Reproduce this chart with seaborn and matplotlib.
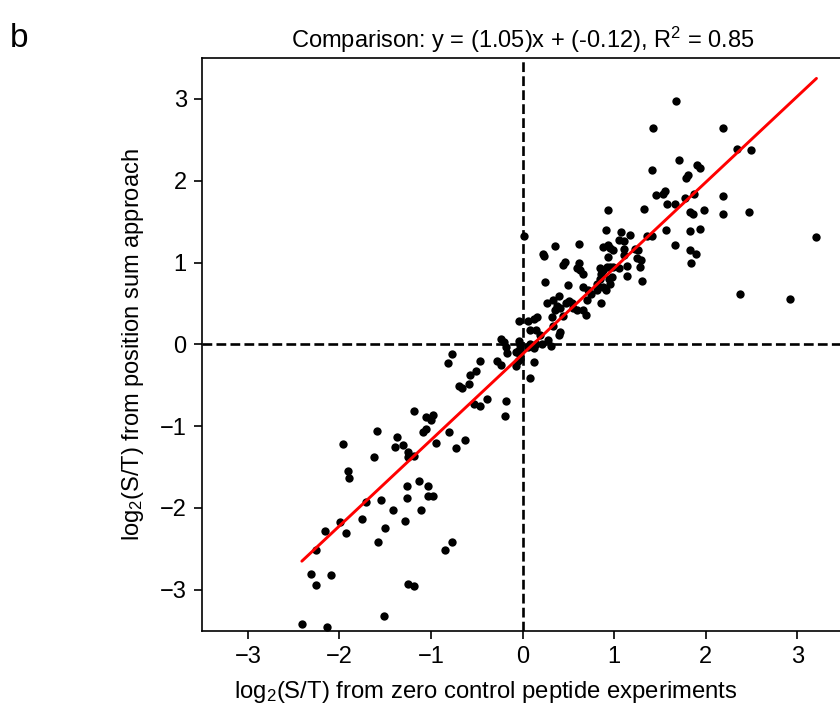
import numpy as np
import pandas as pd
import matplotlib
matplotlib.use("Agg")
import matplotlib.pyplot as plt
import seaborn as sns

# log2(S/T) values
x_zero_ctrl = [
    # lower left
    -2.41, -2.14, -1.51, -2.31, -2.09, -2.26, -1.25, -1.18, -2.25, -2.16,
    -1.93, -1.99, -1.75, -1.58, -1.50, -1.71, -1.55, -1.41, -1.28, -1.11,
    -0.85, -0.77, -1.26, -1.03, -0.98, -1.26, -1.03, -1.13, -1.91, -1.89,
    -1.62, -1.96, -1.39, -1.30, -1.25, -1.25, -1.19, -1.59, -1.37, -0.94,
    -0.73, -1.18, -1.05, -0.98, -1.00, -1.09, -1.05, -0.80, -0.63,
    # around the origin
    -0.77, -0.81, -0.46, -0.28, -0.23, -0.51, -0.57, -0.58, -0.69, -0.66,
    -0.39, -0.46, -0.53, -0.18, -0.19, 0.08, -0.24, -0.20, -0.18, -0.17,
    -0.04, -0.03, -0.04, -0.07, -0.03, -0.05, -0.07, -0.03, 0.06, 0.08,
    0.12, 0.15, 0.21, 0.31, 0.12, 0.19, 0.28, 0.08, 0.15, 0.41,
    0.40, 0.33, 0.02,
    # upper middle
    0.91, 1.08, 1.17, 1.36, 1.41, 1.57, 1.83, 1.94, 0.62, 0.36,
    0.88, 0.93, 0.96, 0.99, 1.05, 1.11, 1.11, 1.23, 1.26, 1.67,
    1.83, 1.89, 1.84, 0.22, 0.24, 0.93, 1.11, 1.25, 1.29, 0.46,
    0.44, 0.62, 0.59, 0.63, 0.66, 0.85, 0.88, 0.86, 0.92, 0.95,
    0.99, 1.05, 1.14, 1.28, 1.14, 1.31, 0.25, 0.50, 0.66, 0.72,
    0.81, 0.88, 0.91, 0.96, 0.94, 0.85, 0.98, 0.81, 0.75, 0.40,
    0.33, 0.27, 0.51, 0.48, 0.54, 0.38, 0.41, 0.36, 0.55, 0.59,
    0.66, 0.69, 0.70, 0.86, 0.32, 0.44, 0.16, 0.12, 0.06, -0.04,
    # upper right
    1.41, 1.71, 1.90, 1.94, 1.81, 1.79, 1.46, 1.53, 1.56, 1.87,
    1.58, 1.66, 1.77, 1.33, 0.93, 1.83, 1.86, 1.98, 1.68, 1.43,
    2.19, 2.34, 2.49, 2.19, 2.19, 2.47, 2.38, 2.92, 3.21,
]
y_pos_sum = [
    # lower left
    -3.42, -3.46, -3.32, -2.81, -2.82, -2.94, -2.93, -2.95, -2.51, -2.28,
    -2.30, -2.17, -2.14, -2.42, -2.24, -1.93, -1.90, -2.02, -2.16, -2.03,
    -2.51, -2.41, -1.88, -1.85, -1.85, -1.73, -1.73, -1.67, -1.55, -1.63,
    -1.38, -1.22, -1.26, -1.23, -1.31, -1.38, -1.36, -1.06, -1.13, -1.20,
    -1.27, -0.82, -0.89, -0.86, -0.93, -1.07, -1.04, -1.07, -1.17,
    # around the origin
    -0.12, -0.23, -0.20, -0.20, -0.25, -0.32, -0.38, -0.48, -0.51, -0.53,
    -0.67, -0.75, -0.73, -0.69, -0.88, -0.41, 0.07, 0.03, -0.03, -0.11,
    0.04, -0.01, -0.07, -0.09, -0.13, -0.20, -0.26, -0.18, -0.03, 0.01,
    -0.05, 0.01, 0.01, -0.02, -0.22, 0.11, 0.05, 0.17, 0.18, 0.15,
    0.11, 0.23, 1.33,
    # upper middle
    1.40, 1.37, 1.34, 1.33, 1.33, 1.40, 1.39, 1.41, 1.23, 1.20,
    1.19, 1.21, 1.18, 1.15, 1.27, 1.26, 1.17, 1.17, 1.15, 1.21,
    1.15, 1.10, 1.00, 1.11, 1.08, 1.07, 1.09, 1.05, 1.03, 1.01,
    0.97, 1.00, 0.93, 0.91, 0.86, 0.93, 0.91, 0.86, 0.94, 0.95,
    0.95, 0.93, 0.96, 0.95, 0.83, 0.78, 0.76, 0.72, 0.70, 0.67,
    0.66, 0.70, 0.67, 0.74, 0.80, 0.80, 0.82, 0.74, 0.61, 0.59,
    0.54, 0.51, 0.53, 0.50, 0.51, 0.47, 0.44, 0.42, 0.45, 0.42,
    0.42, 0.36, 0.54, 0.51, 0.33, 0.35, 0.33, 0.31, 0.29, 0.29,
    # upper right
    2.13, 2.25, 2.19, 2.16, 2.07, 2.03, 1.82, 1.84, 1.87, 1.84,
    1.71, 1.72, 1.79, 1.66, 1.64, 1.62, 1.59, 1.64, 2.97, 2.64,
    2.65, 2.39, 2.38, 1.81, 1.59, 1.62, 0.62, 0.56, 1.31,
]

slope = 1.05
intercept = -0.12
r_squared = 0.85
ticks = [-3, -2, -1, 0, 1, 2, 3]

df = pd.DataFrame({"x": x_zero_ctrl, "y": y_pos_sum})
x_fit = np.array([df["x"].min(), df["x"].max()])
fit = pd.DataFrame({"x": x_fit, "y": slope * x_fit + intercept})

sns.set_style("ticks")
plt.rcParams["font.family"] = ["Liberation Sans", "DejaVu Sans"]
plt.rcParams["mathtext.default"] = "regular"
plt.rcParams["axes.edgecolor"] = "black"
plt.rcParams["xtick.color"] = "black"
plt.rcParams["ytick.color"] = "black"
plt.rcParams["text.color"] = "black"
plt.rcParams["axes.labelcolor"] = "black"

fig = plt.figure(figsize=(8.4, 7.08), dpi=100)
ax = fig.add_axes([0.2405, 0.1092, 0.7631, 0.8089])

ax.axhline(0, color="black", ls="--", lw=1.9, zorder=1)
ax.axvline(0, color="black", ls="--", lw=1.9, zorder=1)
sns.scatterplot(data=df, x="x", y="y", ax=ax, color="black", s=36,
                linewidth=0, zorder=2)
sns.lineplot(data=fit, x="x", y="y", ax=ax, color="red", lw=2.1, zorder=3)

ax.set_xlim(-3.5, 3.5)
ax.set_ylim(-3.5, 3.5)
ax.set_xticks(ticks)
ax.set_yticks(ticks)
ax.tick_params(labelsize=17, length=6, width=1.2, direction="out", pad=5)
for sp in ax.spines.values():
    sp.set_linewidth(1.2)

ax.set_xlabel("log$_2$(S/T) from zero control peptide experiments",
              fontsize=17.2)
ax.xaxis.set_label_coords(0.443, -0.085)
ax.set_ylabel("log$_2$(S/T) from position sum approach", fontsize=17,
              labelpad=10)
ax.set_title(f"Comparison: y = ({slope:.2f})x + ({intercept:.2f}), "
             f"R$^2$ = {r_squared:.2f}", fontsize=17, pad=7)
fig.text(0.012, 0.968, "b", fontsize=24, va="top", ha="left")

fig.savefig("out.png", dpi=100)
